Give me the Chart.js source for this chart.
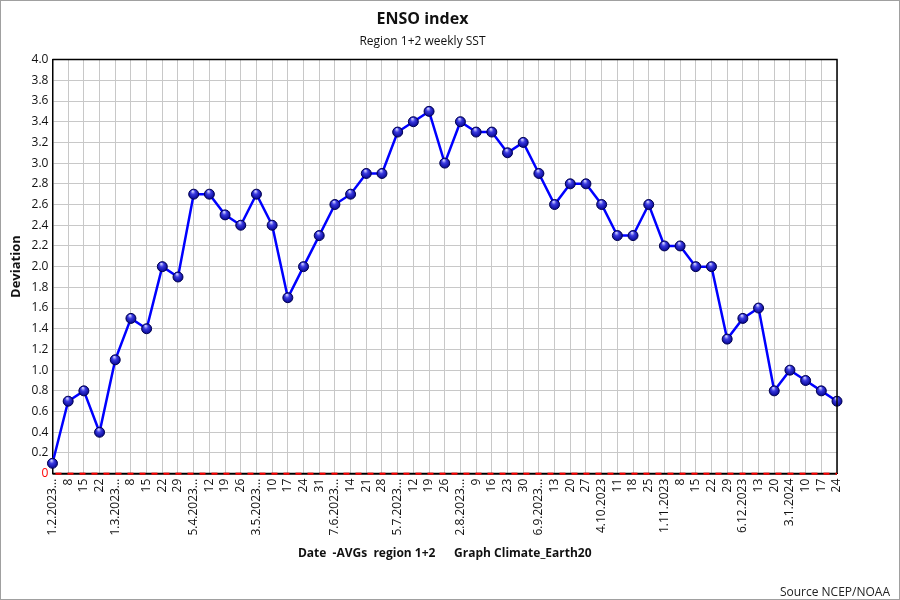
<!DOCTYPE html>
<html>
<head>
<meta charset="utf-8">
<script src="https://cdn.jsdelivr.net/npm/chart.js@4"></script>
<style>
  html, body { margin: 0; padding: 0; background: #fff; }
  #wrap { width: 900px; height: 600px; box-sizing: border-box; border: 1px solid #a0a0a0; }
</style>
</head>
<body>
<div id="wrap"><canvas id="enso" width="898" height="598"></canvas></div>
<script>
// weekly dates (as written on the axis)
var dateLabels = [
  "1.2.2023...", "8", "15", "22",
  "1.3.2023...", "8", "15", "22", "29",
  "5.4.2023...", "12", "19", "26",
  "3.5.2023...", "10", "17", "24", "31",
  "7.6.2023...", "14", "21", "28",
  "5.7.2023...", "12", "19", "26",
  "2.8.2023...", "9", "16", "23", "30",
  "6.9.2023...", "13", "20", "27",
  "4.10.2023", "11", "18", "25",
  "1.11.2023", "8", "15", "22", "29",
  "6.12.2023", "13", "20",
  "3.1.2024", "10", "17", "24"
];

// Nino 1+2 SST deviation
var deviation = [
  0.1, 0.7, 0.8, 0.4,
  1.1, 1.5, 1.4, 2.0, 1.9,
  2.7, 2.7, 2.5, 2.4,
  2.7, 2.4, 1.7, 2.0, 2.3,
  2.6, 2.7, 2.9, 2.9,
  3.3, 3.4, 3.5, 3.0,
  3.4, 3.3, 3.3, 3.1, 3.2,
  2.9, 2.6, 2.8, 2.8,
  2.6, 2.3, 2.3, 2.6,
  2.2, 2.2, 2.0, 2.0, 1.3,
  1.5, 1.6, 0.8,
  1.0, 0.9, 0.8, 0.7
];

var yMin = 0, yMax = 4, yStep = 0.2;

var FONT = "'Open Sans', 'DejaVu Sans', sans-serif";

// ball-like markers
function ballFill(ctx) {
  var chart = ctx.chart;
  var xs = chart.scales.x, ys = chart.scales.y;
  if (!xs || !ys || ctx.dataIndex === undefined || !ctx.parsed) return "#1010c0";
  var px = xs.getPixelForValue(ctx.dataIndex);
  var py = ys.getPixelForValue(ctx.parsed.y);
  if (!isFinite(px) || !isFinite(py)) return "#1010c0";
  var g = chart.ctx.createRadialGradient(px - 1, py - 3, 0.5, px, py, 5.5);
  g.addColorStop(0, "#c8c8ff");
  g.addColorStop(0.35, "#3a3ae0");
  g.addColorStop(1, "#00008a");
  return g;
}

var extras = {
  id: "extras",
  afterDraw: function (chart) {
    var c = chart.ctx, a = chart.chartArea;
    c.save();
    // frame top and right
    c.strokeStyle = "#000";
    c.lineWidth = 1.5;
    c.beginPath();
    c.moveTo(a.left, a.top); c.lineTo(a.right, a.top); c.lineTo(a.right, a.bottom);
    c.stroke();
    // dashed red / black bottom axis
    c.lineWidth = 2;
    c.beginPath(); c.moveTo(a.left, a.bottom); c.lineTo(a.right, a.bottom); c.stroke();
    c.setLineDash([6, 6]);
    c.strokeStyle = "#ff0000";
    c.beginPath(); c.moveTo(a.left + 3, a.bottom); c.lineTo(a.right, a.bottom); c.stroke();
    c.setLineDash([]);
    // source note
    c.font = "12px " + FONT;
    c.fillStyle = "#222";
    c.textAlign = "right";
    c.textBaseline = "alphabetic";
    c.fillText("Source NCEP/NOAA", chart.width - 9, chart.height - 3);
    c.restore();
  }
};

new Chart(document.getElementById("enso"), {
  type: "line",
  data: {
    labels: dateLabels,
    datasets: [{
      label: "ENSO 1+2",
      data: deviation,
      borderColor: "#0000ff",
      borderWidth: 2.5,
      tension: 0,
      pointRadius: 5,
      pointBorderWidth: 1,
      pointBorderColor: "#000050",
      pointBackgroundColor: ballFill,
      clip: false
    }]
  },
  options: {
    responsive: false,
    animation: false,
    layout: { padding: { left: 7, right: 62, top: 0, bottom: 38 } },
    plugins: {
      legend: { display: false },
      tooltip: { enabled: false },
      title: {
        display: true,
        text: "ENSO index",
        color: "#111",
        font: { family: FONT, size: 16, weight: "bold" },
        padding: { top: 9, bottom: 5 }
      },
      subtitle: {
        display: true,
        text: "Region 1+2 weekly SST",
        color: "#111",
        font: { family: FONT, size: 12 },
        padding: { top: 0, bottom: 11 }
      }
    },
    scales: {
      x: {
        type: "category",
        offset: false,
        grid: { color: "#c8c8c8", lineWidth: 1, drawTicks: true, tickLength: 4, tickColor: "#fff" },
        border: { display: true, color: "#000", width: 1 },
        ticks: {
          autoSkip: false,
          maxRotation: 90,
          minRotation: 90,
          color: "#111",
          padding: 1,
          font: { family: FONT, size: 12 }
        },
        title: {
          display: true,
          text: "Date  -AVGs  region 1+2      Graph Climate_Earth20",
          color: "#111",
          font: { family: FONT, size: 12, weight: "bold" },
          padding: { top: 10, bottom: 0 }
        }
      },
      y: {
        min: yMin,
        max: yMax,
        grid: { color: "#c8c8c8", lineWidth: 1, drawTicks: false },
        border: { display: true, color: "#000", width: 1.5 },
        ticks: {
          stepSize: yStep,
          padding: 4,
          font: { family: FONT, size: 12 },
          color: function (ctx) { return ctx.tick && ctx.tick.value === 0 ? "#ff0000" : "#111"; },
          callback: function (v) { return v === 0 ? "0" : Number(v).toFixed(1); }
        },
        title: {
          display: true,
          text: "Deviation",
          color: "#111",
          font: { family: FONT, size: 13, weight: "bold" },
          padding: { top: 0, bottom: 4 }
        }
      }
    }
  },
  plugins: [extras]
});
</script>
</body>
</html>
